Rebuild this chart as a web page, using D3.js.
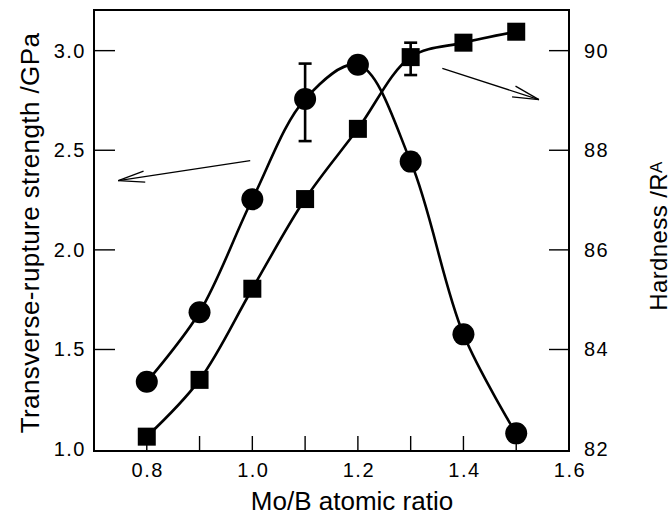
<!DOCTYPE html>
<html>
<head>
<meta charset="utf-8">
<script src="https://cdn.jsdelivr.net/npm/d3@7"></script>
<style>
  body { margin: 0; background: #fff; }
  text { font-family: "Liberation Sans", Arial, sans-serif; fill: #000; }
</style>
</head>
<body>
<script>
// Mo/B atomic ratio
var ratio = [0.8, 0.9, 1.0, 1.1, 1.2, 1.3, 1.4, 1.5];
// transverse-rupture strength, GPa (circles, left axis)
var strength = [1.338, 1.687, 2.254, 2.757, 2.929, 2.443, 1.576, 1.079];
// hardness, HRA (squares, right axis)
var hardness = [82.25, 83.39, 85.22, 87.02, 88.43, 89.87, 90.16, 90.38];

// error bars
var strengthErr = [{x: 1.1, lo: 2.546, hi: 2.935}];
var hardnessErr = [{x: 1.3, lo: 89.51, hi: 90.16}];

var xTicks = [0.8, 0.9, 1.0, 1.1, 1.2, 1.3, 1.4, 1.5];
var xLabels = [0.8, 1.0, 1.2, 1.4, 1.6];
var yLeftTicks = [1.0, 1.5, 2.0, 2.5, 3.0];
var yRightTicks = [82, 84, 86, 88, 90];

var width = 672;
var height = 517;
// plot box (note: "top" is reserved on window, so use m-prefixed names)
var mLeft = 94, mRight = 569, mTop = 10, mBottom = 451;

var svg = d3.select("body").append("svg")
	.attr("width", width)
	.attr("height", height);

var x = d3.scaleLinear().domain([0.7, 1.6]).range([mLeft, mRight]);
var yL = d3.scaleLinear().domain([0.9905, 3.204]).range([mBottom, mTop]);
var yR = d3.scaleLinear().domain([81.962, 90.816]).range([mBottom, mTop]);

// frame
svg.append("rect")
	.attr("x", mLeft).attr("y", mTop)
	.attr("width", mRight - mLeft).attr("height", mBottom - mTop)
	.attr("fill", "none").attr("stroke", "#000").attr("stroke-width", 2);

// ticks (inside)
svg.append("g").selectAll("line").data(xTicks).enter().append("line")
	.attr("x1", function(d){ return x(d); }).attr("x2", function(d){ return x(d); })
	.attr("y1", mBottom).attr("y2", mBottom - 15)
	.attr("stroke", "#000").attr("stroke-width", 1.4);

svg.append("g").selectAll("line").data(yLeftTicks.slice(1)).enter().append("line")
	.attr("x1", mLeft).attr("x2", mLeft + 21)
	.attr("y1", function(d){ return yL(d); }).attr("y2", function(d){ return yL(d); })
	.attr("stroke", "#000").attr("stroke-width", 1.4);

svg.append("g").selectAll("line").data(yRightTicks.slice(1)).enter().append("line")
	.attr("x1", mRight).attr("x2", mRight - 20)
	.attr("y1", function(d){ return yR(d); }).attr("y2", function(d){ return yR(d); })
	.attr("stroke", "#000").attr("stroke-width", 1.4);

// tick labels
svg.append("g").selectAll("text").data(xLabels).enter().append("text")
	.attr("x", function(d){ return x(d) + 1; })
	.attr("y", 477)
	.attr("text-anchor", "middle")
	.style("font-size", "20px").style("letter-spacing", "1.5px")
	.text(function(d){ return d3.format(".1f")(d); });

svg.append("g").selectAll("text").data(yLeftTicks).enter().append("text")
	.attr("x", 86)
	.attr("y", function(d){ return yL(d); })
	.attr("dy", "0.35em")
	.attr("text-anchor", "end")
	.style("font-size", "20px").style("letter-spacing", "1.5px")
	.text(function(d){ return d3.format(".1f")(d); });

svg.append("g").selectAll("text").data(yRightTicks).enter().append("text")
	.attr("x", 584)
	.attr("y", function(d){ return yR(d); })
	.attr("dy", "0.35em")
	.style("font-size", "20px").style("letter-spacing", "1.5px")
	.text(function(d){ return d; });

// axis titles
svg.append("text")
	.attr("x", 352).attr("y", 510)
	.attr("text-anchor", "middle")
	.style("font-size", "26px")
	.text("Mo/B atomic ratio");

svg.append("text")
	.attr("transform", "translate(39,233) rotate(-90)")
	.attr("text-anchor", "middle")
	.style("font-size", "26px").style("letter-spacing", "0.4px")
	.text("Transverse-rupture strength /GPa");

var rt = svg.append("text")
	.attr("transform", "translate(667,236) rotate(-90)")
	.attr("text-anchor", "middle")
	.style("font-size", "24px").style("letter-spacing", "0.4px");
rt.append("tspan").text("Hardness /R");
rt.append("tspan").attr("dy", -5).style("font-size", "17px").text("A");

// curves
var pts1 = ratio.map(function(d, i){ return [d, strength[i]]; });
var pts2 = ratio.map(function(d, i){ return [d, hardness[i]]; });

var line1 = d3.line()
	.x(function(d){ return x(d[0]); })
	.y(function(d){ return yL(d[1]); })
	.curve(d3.curveCatmullRom.alpha(0.5));
var line2 = d3.line()
	.x(function(d){ return x(d[0]); })
	.y(function(d){ return yR(d[1]); })
	.curve(d3.curveCatmullRom.alpha(0.5));

svg.append("path").attr("d", line1(pts1))
	.attr("fill", "none").attr("stroke", "#000").attr("stroke-width", 2.6);
svg.append("path").attr("d", line2(pts2))
	.attr("fill", "none").attr("stroke", "#000").attr("stroke-width", 2.6);

// error bars
function errBar(d, yScale) {
	var g = svg.append("g").attr("stroke", "#000").attr("stroke-width", 2.6);
	g.append("line").attr("x1", x(d.x)).attr("x2", x(d.x))
		.attr("y1", yScale(d.lo)).attr("y2", yScale(d.hi));
	[d.lo, d.hi].forEach(function(v){
		g.append("line").attr("x1", x(d.x) - 6.5).attr("x2", x(d.x) + 6.5)
			.attr("y1", yScale(v)).attr("y2", yScale(v));
	});
}
strengthErr.forEach(function(d){ errBar(d, yL); });
hardnessErr.forEach(function(d){ errBar(d, yR); });

// markers
svg.append("g").selectAll("circle").data(pts1).enter().append("circle")
	.attr("cx", function(d){ return x(d[0]); })
	.attr("cy", function(d){ return yL(d[1]); })
	.attr("r", 11)
	.attr("fill", "#000");

svg.append("g").selectAll("rect").data(pts2).enter().append("rect")
	.attr("x", function(d){ return x(d[0]) - 9; })
	.attr("y", function(d){ return yR(d[1]) - 9; })
	.attr("width", 18).attr("height", 18)
	.attr("fill", "#000");

// arrows pointing to each axis
var arrows = [
	{x1: 0.996, y1: 2.448, x2: 0.746, y2: 2.348},
	{x1: 1.360, y1: 2.911, x2: 1.543, y2: 2.754}
];
arrows.forEach(function(a){
	var sx = x(a.x1), sy = yL(a.y1), tx = x(a.x2), ty = yL(a.y2);
	var ang = Math.atan2(sy - ty, sx - tx);
	var len = 27, spread = 12 * Math.PI / 180;
	var g = svg.append("g").attr("stroke", "#000").attr("stroke-width", 1.3).attr("fill", "none");
	g.append("line").attr("x1", sx).attr("y1", sy).attr("x2", tx).attr("y2", ty);
	[-spread, spread].forEach(function(s){
		g.append("line").attr("x1", tx).attr("y1", ty)
			.attr("x2", tx + len * Math.cos(ang + s))
			.attr("y2", ty + len * Math.sin(ang + s));
	});
});
</script>
</body>
</html>
